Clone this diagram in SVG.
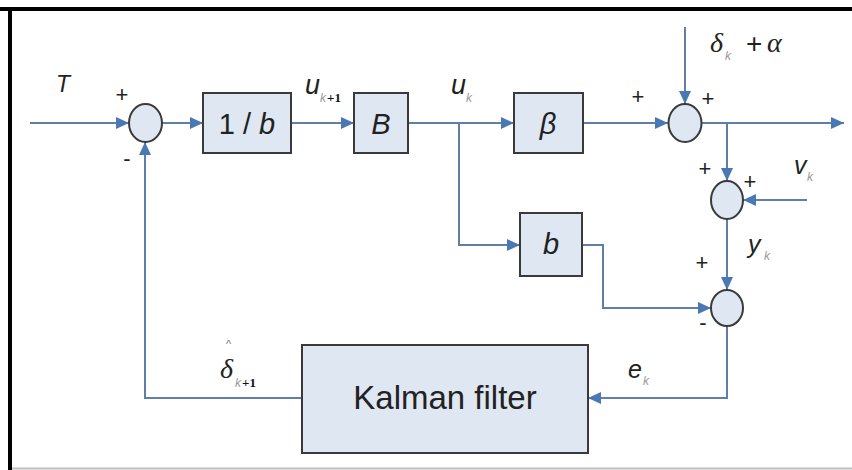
<svg xmlns="http://www.w3.org/2000/svg" width="852" height="470" viewBox="0 0 852 470">
<defs>
<marker id="ah" markerUnits="userSpaceOnUse" markerWidth="14" markerHeight="12" refX="13" refY="6" orient="auto">
<path d="M0,0 L13,6 L0,12 Z" fill="#4a78b4"/>
</marker>
<style>
.ln{fill:none;stroke:#5f7fa8;stroke-width:2}
.ar{fill:none;stroke:#5f7fa8;stroke-width:2;marker-end:url(#ah)}
.bx{fill:#dfe7f2;stroke:#3a3a3a;stroke-width:2}
.sm{fill:#dfe7f2;stroke:#3a3a3a;stroke-width:2}
.t{font-family:"Liberation Sans",Arial,sans-serif;fill:#222}
.i{font-style:italic}
.sg{font-family:"Liberation Sans",Arial,sans-serif;font-style:italic;fill:#999;font-size:12px}
.p1{font-family:"Liberation Serif","Times New Roman",serif;font-weight:bold;fill:#111;font-size:13px}
.pm{font-family:"Liberation Sans",Arial,sans-serif;fill:#222;font-size:22px;text-anchor:middle}
</style>
</defs>
<rect x="0" y="0" width="852" height="470" fill="#ffffff"/>
<line x1="0" y1="9" x2="852" y2="9" stroke="#000" stroke-width="4"/>
<line x1="10" y1="7" x2="10" y2="470" stroke="#000" stroke-width="4"/>
<line x1="12" y1="468.5" x2="852" y2="468.5" stroke="#c0c0c0" stroke-width="2"/>

<g id="connectors">
<line class="ar" x1="30" y1="123" x2="129" y2="123"/>
<line class="ar" x1="162" y1="123" x2="203" y2="123"/>
<line class="ar" x1="291" y1="123" x2="354" y2="123"/>
<line class="ar" x1="408" y1="123" x2="514" y2="123"/>
<polyline class="ar" points="459,123 459,245 520,245"/>
<line class="ar" x1="583" y1="123" x2="668" y2="123"/>
<line class="ar" x1="685" y1="27" x2="685" y2="104"/>
<line class="ar" x1="702" y1="123" x2="844" y2="123"/>
<line class="ar" x1="727" y1="123" x2="727" y2="181"/>
<line class="ar" x1="807" y1="200" x2="743" y2="200"/>
<line class="ar" x1="727" y1="219" x2="727" y2="290"/>
<polyline class="ar" points="582,245 603,245 603,308 711,308"/>
<polyline class="ar" points="727,326 727,398 588,398"/>
<polyline class="ar" points="302,398 145,398 145,142"/>
</g>

<g id="sum1"><ellipse class="sm" cx="145.5" cy="123" rx="16.5" ry="19"/></g>
<g id="box-1b"><rect class="bx" x="203" y="93" width="88" height="60"/>
<text class="t" x="247" y="134" font-size="29" text-anchor="middle">1 / <tspan class="i">b</tspan></text></g>
<g id="box-B"><rect class="bx" x="354" y="93" width="54" height="60"/>
<text class="t i" x="381" y="134" font-size="29" text-anchor="middle">B</text></g>
<g id="box-beta"><rect class="bx" x="514" y="93" width="69" height="60"/>
<text class="t i" x="548" y="134" font-size="29" text-anchor="middle">β</text></g>
<g id="sum2"><ellipse class="sm" cx="685" cy="123" rx="16.5" ry="19"/></g>
<g id="sum3"><ellipse class="sm" cx="727" cy="200" rx="16" ry="19"/></g>
<g id="box-b"><rect class="bx" x="520" y="213" width="62" height="63"/>
<text class="t i" x="551" y="254" font-size="29" text-anchor="middle">b</text></g>
<g id="sum4"><ellipse class="sm" cx="727" cy="308" rx="16" ry="18"/></g>
<g id="kalman"><rect class="bx" x="302" y="345" width="286" height="108"/>
<text class="t" x="445" y="409" font-size="33" text-anchor="middle" fill="#2a2a2a">Kalman filter</text></g>

<g id="labels">
<text class="t i" x="56" y="92" font-size="23">T</text>
<text class="pm" x="122" y="102">+</text>
<text class="pm" x="127" y="166">-</text>
<text class="t i" x="305" y="94" font-size="27">u</text>
<text class="sg" x="320" y="102">k</text>
<text class="p1" x="327" y="102">+1</text>
<text class="t i" x="451" y="94" font-size="27">u</text>
<text class="sg" x="466" y="102">k</text>
<text class="pm" x="638" y="104">+</text>
<text class="pm" x="708" y="106">+</text>
<text font-family="Liberation Serif,serif" font-style="italic" font-size="28" fill="#222" x="710" y="52">δ</text>
<text class="sg" x="725" y="60">k</text>
<text class="t" x="746" y="53" font-size="28">+</text>
<text font-family="Liberation Serif,serif" font-style="italic" font-size="28" fill="#222" x="767" y="52">α</text>
<text class="pm" x="705" y="176">+</text>
<text class="pm" x="750" y="189">+</text>
<text class="t i" x="794" y="174" font-size="25">v</text>
<text class="sg" x="807" y="181">k</text>
<text class="t i" x="748" y="253" font-size="25">y</text>
<text class="sg" x="764" y="260">k</text>
<text class="pm" x="702" y="270">+</text>
<text class="pm" x="703" y="330">-</text>
<text class="t i" x="628" y="378" font-size="25">e</text>
<text class="sg" x="643" y="385">k</text>
<text font-family="Liberation Serif,serif" font-style="italic" font-size="28" fill="#222" x="220" y="378">δ</text>
<text font-family="Liberation Sans,sans-serif" font-size="11" fill="#777" x="226" y="348">^</text>
<text class="sg" x="235" y="387">k</text>
<text class="p1" x="242" y="387">+1</text>
</g>
</svg>
